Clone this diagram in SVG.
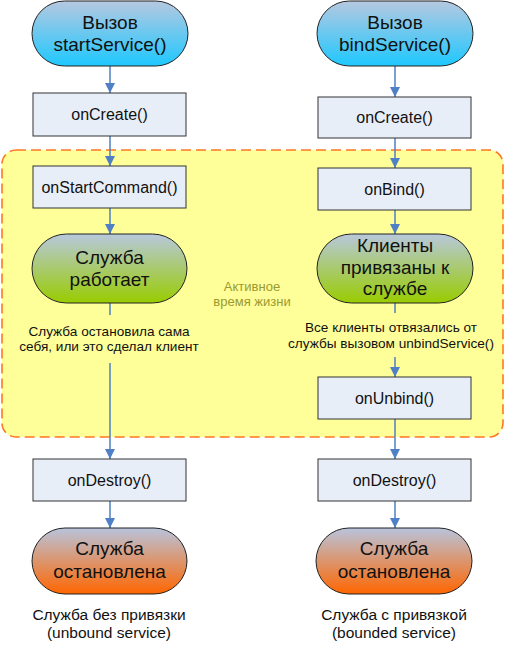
<svg xmlns="http://www.w3.org/2000/svg" width="507" height="645" viewBox="0 0 507 645">
<defs>
<linearGradient id="gBlue" x1="0" y1="0" x2="0" y2="1"><stop offset="0" stop-color="#b6c8e0"/><stop offset="1" stop-color="#1ec8ff"/></linearGradient>
<linearGradient id="gGreen" x1="0" y1="0" x2="0" y2="1"><stop offset="0" stop-color="#b8c8dc"/><stop offset="1" stop-color="#99cc00"/></linearGradient>
<linearGradient id="gOrange" x1="0" y1="0" x2="0" y2="1"><stop offset="0" stop-color="#b8c4dc"/><stop offset="1" stop-color="#ff6600"/></linearGradient>
<marker id="ah" viewBox="0 0 10 10" refX="10" refY="5" markerWidth="10" markerHeight="10" markerUnits="userSpaceOnUse" orient="auto"><path d="M0,0 L10,5 L0,10 z" fill="#4f7fc4"/></marker>
</defs>
<style>
.pill{stroke:#222;stroke-width:1}
.box{fill:#e8eef8;stroke:#333;stroke-width:1}
.t{font-family:"Liberation Sans",Arial,sans-serif;fill:#111;text-anchor:middle}
.pt{font-size:19px}
.bt{font-size:16px}
.st{font-size:13.6px}
.lt{font-size:15.5px}
.ct{font-size:13px;fill:#9a9a30}
.c{stroke:#4f7fc4;stroke-width:1.5;fill:none}
</style>
<rect x="2" y="150" width="501" height="287" rx="14" fill="#ffff99" stroke="#ff7722" stroke-width="1.6" stroke-dasharray="10,5"/>
<g id="lifetime-label">
<text class="t ct" x="252" y="291">Активное</text>
<text class="t ct" x="252" y="306">время жизни</text>
</g>
<g id="connectors">
<line class="c" x1="110" y1="66" x2="110" y2="93" marker-end="url(#ah)"/>
<line class="c" x1="110" y1="136" x2="110" y2="166" marker-end="url(#ah)"/>
<line class="c" x1="110" y1="208" x2="110" y2="234" marker-end="url(#ah)"/>
<line class="c" x1="110" y1="303" x2="110" y2="315"/>
<line class="c" x1="110" y1="363" x2="110" y2="459" marker-end="url(#ah)"/>
<line class="c" x1="110" y1="501" x2="110" y2="528" marker-end="url(#ah)"/>
<line class="c" x1="395" y1="66" x2="395" y2="97" marker-end="url(#ah)"/>
<line class="c" x1="395" y1="138" x2="395" y2="168" marker-end="url(#ah)"/>
<line class="c" x1="395" y1="210" x2="395" y2="234" marker-end="url(#ah)"/>
<line class="c" x1="395" y1="303" x2="395" y2="313"/>
<line class="c" x1="395" y1="357" x2="395" y2="377" marker-end="url(#ah)"/>
<line class="c" x1="395" y1="419" x2="395" y2="459" marker-end="url(#ah)"/>
<line class="c" x1="395" y1="501" x2="395" y2="528" marker-end="url(#ah)"/>
</g>
<g id="start-call">
<rect class="pill" x="32" y="1" width="156" height="65" rx="32.5" fill="url(#gBlue)"/>
<text class="t pt" x="110" y="28.5">Вызов</text>
<text class="t pt" x="110" y="50.5">startService()</text>
</g>
<g id="bind-call">
<rect class="pill" x="317" y="1" width="156" height="65" rx="32.5" fill="url(#gBlue)"/>
<text class="t pt" x="395" y="28.5">Вызов</text>
<text class="t pt" x="395" y="50.5">bindService()</text>
</g>
<g id="oncreate-left">
<rect class="box" x="33" y="93" width="153" height="43"/>
<text class="t bt" x="109.5" y="120">onCreate()</text>
</g>
<g id="oncreate-right">
<rect class="box" x="318" y="97" width="153" height="41"/>
<text class="t bt" x="394.5" y="123">onCreate()</text>
</g>
<g id="onstartcommand">
<rect class="box" x="33" y="166" width="153" height="42"/>
<text class="t bt" x="109.5" y="192.5">onStartCommand()</text>
</g>
<g id="onbind">
<rect class="box" x="318" y="168" width="153" height="42"/>
<text class="t bt" x="394.5" y="194.5">onBind()</text>
</g>
<g id="running">
<rect class="pill" x="32" y="234" width="155" height="69" rx="34.5" fill="url(#gGreen)"/>
<text class="t pt" x="109.5" y="264">Служба</text>
<text class="t pt" x="109.5" y="285.5">работает</text>
</g>
<g id="bound">
<rect class="pill" x="317" y="234" width="156" height="69" rx="34.5" fill="url(#gGreen)"/>
<text class="t pt" x="395" y="252">Клиенты</text>
<text class="t pt" x="395" y="273.5">привязаны к</text>
<text class="t pt" x="395" y="295">службе</text>
</g>
<g id="stop-label">
<text class="t st" x="109" y="335.5">Служба остановила сама</text>
<text class="t st" x="109" y="350.5">себя, или это сделал клиент</text>
</g>
<g id="unbind-label">
<text class="t st" x="391" y="332">Все клиенты отвязались от</text>
<text class="t st" x="391" y="348">службы вызовом unbindService()</text>
</g>
<g id="onunbind">
<rect class="box" x="318" y="377" width="153" height="42"/>
<text class="t bt" x="394.5" y="403.5">onUnbind()</text>
</g>
<g id="ondestroy-left">
<rect class="box" x="33" y="459" width="153" height="42"/>
<text class="t bt" x="109.5" y="485.5">onDestroy()</text>
</g>
<g id="ondestroy-right">
<rect class="box" x="318" y="459" width="153" height="42"/>
<text class="t bt" x="394.5" y="485.5">onDestroy()</text>
</g>
<g id="stopped-left">
<rect class="pill" x="32" y="528" width="155" height="66" rx="33" fill="url(#gOrange)"/>
<text class="t pt" x="109.5" y="555">Служба</text>
<text class="t pt" x="109.5" y="578">остановлена</text>
</g>
<g id="stopped-right">
<rect class="pill" x="316" y="528" width="156" height="66" rx="33" fill="url(#gOrange)"/>
<text class="t pt" x="394" y="555">Служба</text>
<text class="t pt" x="394" y="578">остановлена</text>
</g>
<g id="captions">
<text class="t lt" x="109" y="620">Служба без привязки</text>
<text class="t lt" x="109" y="638">(unbound service)</text>
<text class="t lt" x="394" y="620">Служба с привязкой</text>
<text class="t lt" x="394" y="638">(bounded service)</text>
</g>
</svg>
